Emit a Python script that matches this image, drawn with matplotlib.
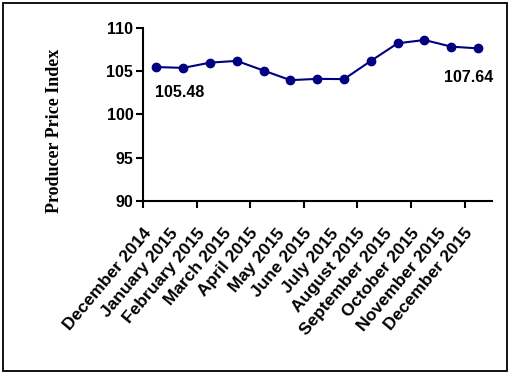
import numpy as np
from matplotlib import pyplot as plt
from matplotlib.patches import Rectangle
from matplotlib.transforms import ScaledTranslation

months = ['December 2014', 'January 2015', 'February 2015', 'March 2015',
          'April 2015', 'May 2015', 'June 2015', 'July 2015', 'August 2015',
          'September 2015', 'October 2015', 'November 2015', 'December 2015']
ppi = [105.48, 105.38, 105.99, 106.19, 105.07, 103.96, 104.11, 104.08,
       106.19, 108.23, 108.61, 107.84, 107.64]
y_ticks = [90, 95, 100, 105, 110]

navy = '#000080'
W, H = 512, 376

fig = plt.figure(figsize=(W / 100, H / 100), dpi=100)

# outer frame round the whole chart
fig.patches.append(Rectangle((3 / W, 5 / H), 504 / W, 368 / H, transform=fig.transFigure,
                             fill=False, edgecolor='black', linewidth=1.3))

ax = fig.add_axes([143 / W, 1 - 200.7 / H, (491.5 - 143) / W, (200.7 - 28) / H])

x = np.arange(len(months))
ax.plot(x, ppi, color=navy, linewidth=1.5, marker='o', markersize=6)

ax.set_xlim(-0.5, len(months) - 0.5)
ax.set_ylim(y_ticks[0], y_ticks[-1])
ax.set_yticks(y_ticks)

# tick marks on every second category boundary, labels on categories
ax.set_xticks(np.arange(-0.5, len(months), 2))
ax.set_xticklabels([])
ax.set_xticks(x, minor=True)
ax.set_xticklabels(months, minor=True, rotation=50, ha='right', va='top',
                   rotation_mode='anchor', fontsize=12.5, fontweight='bold',
                   family='Liberation Sans')
ax.tick_params(axis='x', which='minor', length=0, pad=18)
ax.tick_params(axis='both', which='major', direction='out', length=5, width=1.5)
for lbl in ax.get_xticklabels(which='minor'):
    lbl.set_transform(lbl.get_transform() + ScaledTranslation(-0.14, 0, fig.dpi_scale_trans))

for lbl in ax.get_yticklabels():
    lbl.set_fontsize(11.5)
    lbl.set_fontweight('bold')
    lbl.set_family('Liberation Sans')
ax.tick_params(axis='y', pad=2)

for s in ['top', 'right']:
    ax.spines[s].set_visible(False)
for s in ['left', 'bottom']:
    ax.spines[s].set_linewidth(1.5)

# data labels on first and last point
ax.annotate('%.2f' % ppi[0], (x[0], ppi[0]), xytext=(17, -18), textcoords='offset points',
            ha='center', va='center', fontsize=11.5, fontweight='bold', family='Liberation Sans')
ax.annotate('%.2f' % ppi[-1], (x[-1], ppi[-1]), xytext=(-7, -21), textcoords='offset points',
            ha='center', va='center', fontsize=11.5, fontweight='bold', family='Liberation Sans')

fig.text(55 / W, 1 - 131 / H, 'Producer Price Index', rotation=90, ha='center', va='center',
         fontsize=13, fontweight='bold', family='Liberation Serif')

fig.savefig('out.png', dpi=100)
